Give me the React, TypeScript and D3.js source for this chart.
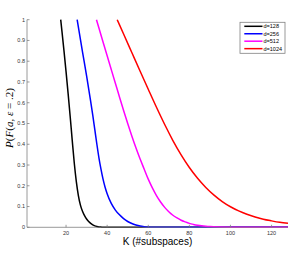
import React from "react";
import * as d3 from "d3";

const K128 = [17.4, 18, 19, 20, 21, 22, 23, 24, 25, 26, 27, 28, 29, 30, 31, 32, 33, 34, 35, 36, 37, 38, 128];
const P128 = [1, 0.945, 0.85, 0.75, 0.645, 0.535, 0.42, 0.31, 0.22, 0.153, 0.107, 0.077, 0.056, 0.04, 0.028, 0.019, 0.012, 0.007, 0.004, 0.002, 0.001, 0, 0];

const K256 = [25.4, 28, 30, 32, 33, 34, 35, 36, 37, 38, 39, 40, 42, 44, 46, 48, 50, 52, 54, 56, 58, 60, 62, 128];
const P256 = [1, 0.845, 0.73, 0.605, 0.54, 0.47, 0.4, 0.335, 0.28, 0.232, 0.193, 0.162, 0.115, 0.083, 0.06, 0.042, 0.028, 0.018, 0.011, 0.006, 0.003, 0.001, 0, 0];

const K512 = [34.8, 36, 38, 40, 42, 44, 46, 48, 50, 52, 54, 56, 58, 60, 62, 64, 66, 68, 70, 72, 74, 76, 78, 80, 82, 84, 86, 88, 90, 92, 95, 100, 105, 128];
const P512 = [1, 0.96, 0.893, 0.826, 0.76, 0.694, 0.628, 0.563, 0.5, 0.44, 0.383, 0.33, 0.281, 0.232, 0.19, 0.153, 0.122, 0.096, 0.075, 0.058, 0.045, 0.034, 0.026, 0.019, 0.014, 0.01, 0.007, 0.005, 0.0035, 0.0025, 0.0014, 0.0004, 0, 0];

const K1024 = [44.9, 48, 52, 56, 60, 64, 68, 72, 76, 80, 84, 88, 92, 96, 100, 104, 108, 112, 116, 120, 124, 128];
const P1024 = [1, 0.931, 0.842, 0.753, 0.665, 0.578, 0.495, 0.418, 0.349, 0.288, 0.236, 0.192, 0.155, 0.124, 0.099, 0.079, 0.063, 0.05, 0.039, 0.031, 0.024, 0.019];

const LABELS = ["d=128", "d=256", "d=512", "d=1024"];
const COLORS = ["#000000", "#0000ff", "#ff00ff", "#ff0000"];
const X_TICKS = [20, 40, 60, 80, 100, 120];
const Y_TICKS = [0, 0.1, 0.2, 0.3, 0.4, 0.5, 0.6, 0.7, 0.8, 0.9, 1];

const SERIES = [
  { k: K128, p: P128 },
  { k: K256, p: P256 },
  { k: K512, p: P512 },
  { k: K1024, p: P1024 },
];

export default function App() {
  const W = 293, H = 256;
  const left = 27, right = 288, top = 19.7, bottom = 227.3;
  const x = d3.scaleLinear().domain([1, 128]).range([left, right]);
  const y = d3.scaleLinear().domain([0, 1]).range([bottom, top]);
  const line = d3
    .line<[number, number]>()
    .x((d) => x(d[0]))
    .y((d) => y(d[1]))
    .curve(d3.curveMonotoneX);
  const axisColor = "#808080";
  const tickFont = "Liberation Sans, Arial, sans-serif";
  const lx = 240, ly = 22.3, lw = 45, lh = 31;
  return (
    <svg
      width={W}
      height={H}
      style={{ position: "absolute", left: 0, top: 0, background: "#fff" }}
    >
      <rect x={0} y={0} width={W} height={H} fill="#fff" />
      {SERIES.map((s, i) => (
        <path
          key={i}
          d={line(s.k.map((k, j) => [k, s.p[j]] as [number, number])) || ""}
          fill="none"
          stroke={COLORS[i]}
          strokeWidth={1.5}
        />
      ))}
      <line x1={left} x2={left} y1={top} y2={bottom} stroke={axisColor} strokeWidth={0.8} />
      <line x1={left} x2={right} y1={bottom} y2={bottom} stroke={axisColor} strokeWidth={0.8} />
      {Y_TICKS.map((t) => (
        <g key={"y" + t}>
          <line x1={left} x2={left + 2.5} y1={y(t)} y2={y(t)} stroke={axisColor} strokeWidth={0.8} />
          <text
            x={left - 2}
            y={y(t)}
            dy="0.35em"
            textAnchor="end"
            fontSize={5.5}
            fontFamily={tickFont}
            fill="#333"
          >
            {String(t)}
          </text>
        </g>
      ))}
      {X_TICKS.map((t) => (
        <g key={"x" + t}>
          <line x1={x(t)} x2={x(t)} y1={bottom} y2={bottom - 2.5} stroke={axisColor} strokeWidth={0.8} />
          <text
            x={x(t)}
            y={bottom + 8}
            textAnchor="middle"
            fontSize={5.5}
            fontFamily={tickFont}
            fill="#333"
          >
            {t}
          </text>
        </g>
      ))}
      <text
        x={(left + right) / 2}
        y={245}
        textAnchor="middle"
        fontSize={10}
        fontFamily={tickFont}
        fill="#000"
      >
        K (#subspaces)
      </text>
      <text
        transform={`translate(12.5, 118) rotate(-90)`}
        textAnchor="middle"
        fontSize={11}
        fontFamily="Liberation Serif, 'Times New Roman', serif"
        fill="#000"
      >
        <tspan fontStyle="italic">P</tspan>
        <tspan>(</tspan>
        <tspan fontStyle="italic">F</tspan>
        <tspan>(</tspan>
        <tspan fontStyle="italic">a, ε</tspan>
        <tspan> = .2)</tspan>
      </text>
      <rect x={lx} y={ly} width={lw} height={lh} fill="#fff" stroke="#808080" strokeWidth={0.8} />
      {LABELS.map((lab, i) => {
        const yy = 26.3 + i * 7.45;
        return (
          <g key={lab}>
            <line x1={244.3} x2={262.5} y1={yy} y2={yy} stroke={COLORS[i]} strokeWidth={1.5} />
            <text x={263.5} y={yy} dy="0.35em" fontSize={5.5} fontFamily={tickFont} fill="#000">
              {lab}
            </text>
          </g>
        );
      })}
    </svg>
  );
}
